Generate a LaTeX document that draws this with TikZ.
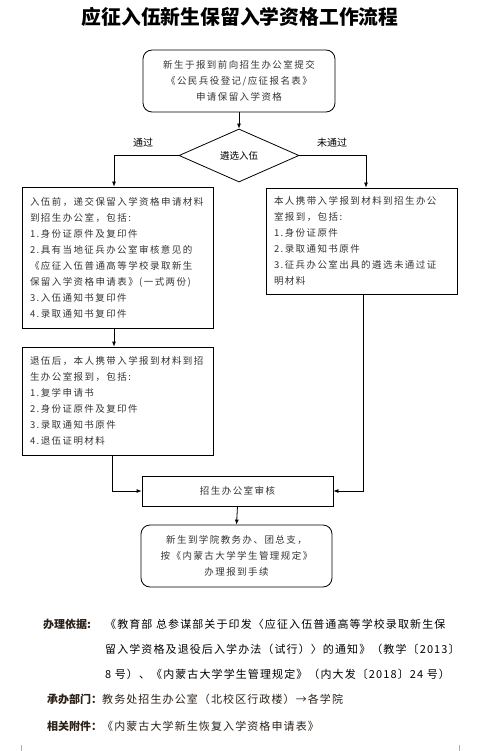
\documentclass[tikz,border=0pt]{standalone}
\usepackage{fontspec}
\usepackage{xcolor}
\usepackage{tikz}
\usetikzlibrary{arrows.meta,calc,shapes.geometric,positioning}
\setmainfont{Noto Sans CJK SC}
\newfontfamily\boxfont[LetterSpace=15]{Noto Sans CJK SC}
\newfontfamily\notefont[LetterSpace=10]{Noto Sans CJK SC}
\definecolor{flowInk}{HTML}{333333}
\definecolor{noteInk}{HTML}{2B2118}
\definecolor{markGray}{HTML}{B0B0B0}
\tikzset{
  flowbox/.style={draw,line width=0.8pt,text width=175pt,inner xsep=8pt,inner ysep=0pt,
    align=left,font=\boxfont\fontsize{9.5}{16}\selectfont,text=flowInk},
  roundbox/.style={flowbox,rounded corners=9pt,align=center},
  judge/.style={draw,diamond,line width=0.8pt,minimum width=120pt,minimum height=53pt,
    inner sep=0pt,font=\fontsize{9.5}{11}\selectfont},
  branch/.style={font=\fontsize{10}{12}\selectfont},
  flowline/.style={line width=0.8pt,-{Latex[length=5pt,width=4pt]}},
  notehead/.style={anchor=west,inner sep=0pt,font=\fontsize{11}{13}\selectfont,text=noteInk},
  notebody/.style={anchor=west,inner sep=0pt,align=left,font=\notefont\fontsize{11}{25}\selectfont}
}

\begin{document}
\begin{tikzpicture}[x=1pt,y=-1pt,>=Latex]
  \useasboundingbox (0,0) rectangle (484,751);
  \node[font=\bfseries\fontsize{19.8}{22}\selectfont] (title) at (240,17)
    {应征入伍新生保留入学资格工作流程};

  % flow
  \node[roundbox,text width=176pt,minimum height=62pt] (submit) at (239,81)
    {新生于报到前向招生办公室提交\\《公民兵役登记/应征报名表》\\申请保留入学资格};
  \node[judge] (select) at (239,155.5) {遴选入伍};
  \node[flowbox,minimum height=141pt] (before) at (117.5,257.5)
    {入伍前，递交保留入学资格申请材料\\到招生办公室，包括:\\1.身份证原件及复印件\\
     2.具有当地征兵办公室审核意见的\\《应征入伍普通高等学校录取新生\\保留入学资格申请表》(一式两份)\\
     3.入伍通知书复印件\\4.录取通知书复印件};
  \node[flowbox,minimum height=106pt] (failed) at (361.5,241)
    {本人携带入学报到材料到招生办公\\室报到，包括:\\1.身份证原件\\2.录取通知书原件\\
     3.征兵办公室出具的遴选未通过证\\明材料};
  \node[flowbox,minimum height=108pt] (after) at (117.5,401)
    {退伍后，本人携带入学报到材料到招\\生办公室报到，包括:\\1.复学申请书\\2.身份证原件及复印件\\
     3.录取通知书原件\\4.退伍证明材料};
  \node[flowbox,align=center,minimum height=30pt] (check) at (237.5,491) {招生办公室审核};
  \node[roundbox,text width=175pt,minimum height=62pt] (enrol) at (236.5,556)
    {新生到学院教务办、团总支，\\按《内蒙古大学学生管理规定》\\办理报到手续};

  \node[branch] (passL) at (143,143) {通过};
  \node[branch] (passR) at (332,143) {未通过};

  \draw[flowline] (submit.south) -- (select.north);
  \draw[flowline] (select.west) -| ($(before.north)+(-3.5,0)$);
  \draw[flowline] (select.east) -| ($(failed.north)+(4.5,0)$);
  \draw[flowline] ($(before.south)+(-3.5,0)$) -- ($(after.north)+(-3.5,0)$);
  \draw[flowline] ($(after.south)+(-5.5,0)$) |- (check.west);
  \draw[flowline] ($(failed.south)+(1.5,0)$) |- (check.east);
  \draw[flowline] (check.south) -- (enrol.north);

  % notes
  \node[notehead] (basisH) at (43,624) {\bfseries 办理依据:};
  \node[notebody] (basis) at (105,649.5)
    {《教育部 总参谋部关于印发〈应征入伍普通高等学校录取新生保\\
     留入学资格及退役后入学办法（试行）〉的通知》（教学〔2013〕\\
     8 号）、《内蒙古大学学生管理规定》（内大发〔2018〕24 号）};
  \node[notehead] (dept) at (47,699) {\bfseries 承办部门：{\mdseries\notefont 教务处招生办公室（北校区行政楼）→各学院}};
  \node[notehead] (annex) at (47,726) {\bfseries 相关附件：{\mdseries\notefont 《内蒙古大学新生恢复入学资格申请表》}};

  \draw[markGray] (21,745) -- (21,751) (459,745) -- (459,751);
\end{tikzpicture}
\end{document}
